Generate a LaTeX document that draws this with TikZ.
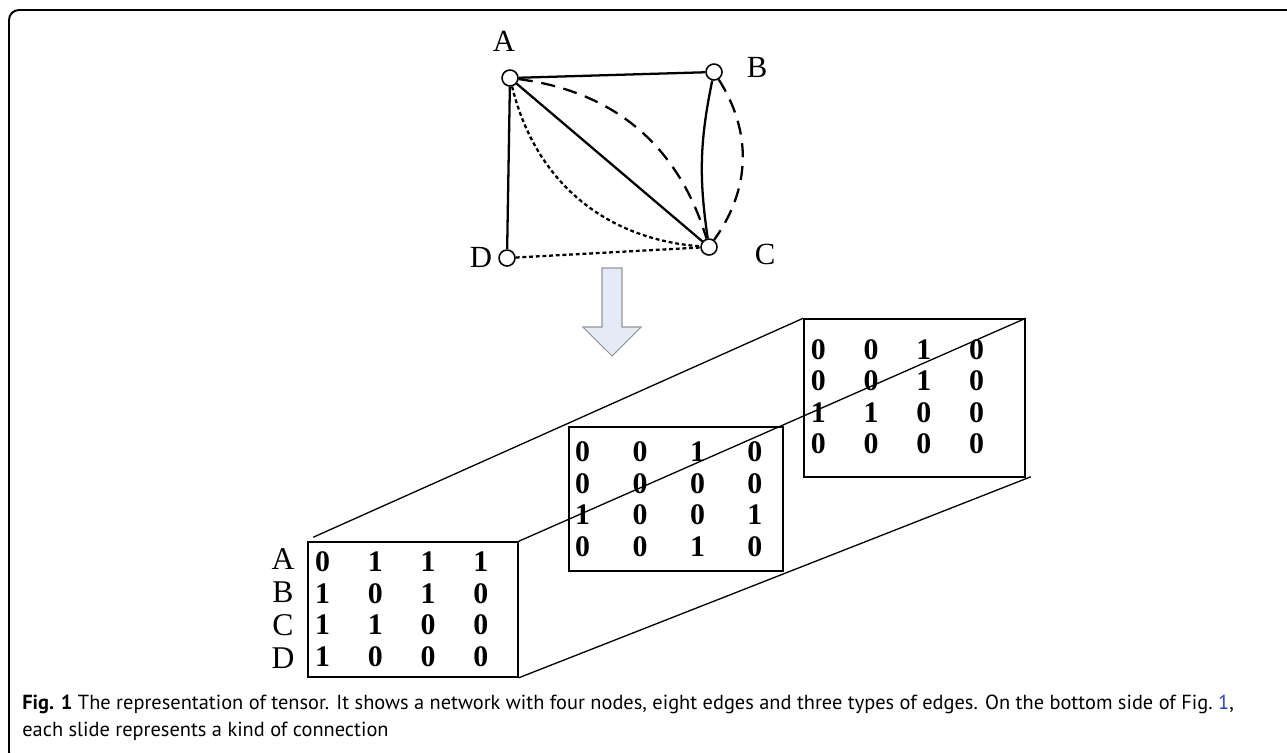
\documentclass[tikz,border=0pt]{standalone}
\usepackage{fontspec}
\setmainfont{Liberation Serif}
\newfontfamily\capfont{PT Sans}
\usepackage{tikz}
\definecolor{arrowfill}{RGB}{228,235,246}
\definecolor{arrowline}{RGB}{150,150,150}
\definecolor{linkblue}{RGB}{40,70,200}
\tikzset{
  vertex/.style={circle, draw=black, fill=white, minimum size=0.32cm,
    inner sep=0pt, line width=0.9pt},
  vlabel/.style={font=\fontsize{17.5}{20}\selectfont, inner sep=0pt},
  rowlabel/.style={font=\fontsize{18}{20}\selectfont, inner sep=0pt},
  num/.style={font=\fontsize{17}{20}\selectfont\bfseries, inner sep=0pt},
  slice/.style={rectangle, draw=black, line width=0.9pt, inner sep=0pt},
  solidedge/.style={line width=1.3pt},
  dashedge/.style={line width=1.3pt, dash pattern=on 8pt off 5pt},
  dotedge/.style={line width=1.3pt, dash pattern=on 2.2pt off 1.6pt},
  prism/.style={line width=0.75pt},
  frameline/.style={line width=1.1pt, rounded corners=0.2cm},
  bigarrow/.style={fill=arrowfill, draw=arrowline, line width=0.6pt},
  caption/.style={anchor=base west, inner sep=0pt,
    font=\capfont\fontsize{11.6}{14}\selectfont}
}

\begin{document}
\begin{tikzpicture}[x=0.02cm, y=-0.02cm]
  \useasboundingbox (0,0) rectangle (1287,752);
  \clip (0,0) rectangle (1287,752);

  % Frame
  \draw[frameline] (1300,10) -- (9,10) -- (9,762) -- (1300,762);

  % Network
  \node[vertex] (A) at (510,78) {};
  \node[vertex] (B) at (714,72) {};
  \node[vertex] (C) at (709,247) {};
  \node[vertex] (D) at (507,258) {};
  \node[vlabel] (lA) at (504,41) {A};
  \node[vlabel] (lB) at (757,67) {B};
  \node[vlabel] (lC) at (765,254) {C};
  \node[vlabel] (lD) at (481,257) {D};

  \draw[solidedge] (A) -- (B);
  \draw[solidedge] (A) -- (D);
  \draw[solidedge] (A) -- (C);
  \draw[solidedge] (B) to[bend right=10] (C);
  \draw[dashedge] (B) to[bend left=34] (C);
  \draw[dashedge] (A) to[bend left=33] (C);
  \draw[dotedge] (A) to[bend right=36] (C);
  \draw[dotedge] (D) -- (C);

  % Down arrow
  \draw[bigarrow] (602,268) -- (622,268) -- (622,327) -- (641,327)
    -- (612,356) -- (583,327) -- (602,327) -- cycle;

  % Slices
  \node[slice, minimum width=4.2cm, minimum height=2.7cm] (front) at (413,609.5) {};
  \node[slice, minimum width=4.28cm, minimum height=2.88cm] (middle) at (676,499) {};
  \node[slice, minimum width=4.42cm, minimum height=3.16cm] (back) at (914.5,398) {};

  \draw[prism] ([shift={(6,-4)}]front.north west) -- (back.north west);
  \draw[prism] (front.north east) -- (back.north east);
  \draw[prism] (front.south east) -- ([shift={(5,-1)}]back.south east);

  % Entries
  \foreach \row [count=\i] in {{0,1,1,1},{1,0,1,0},{1,1,0,0},{1,0,0,0}}
    \foreach \v [count=\j] in \row
      \node[num] (f-\i-\j) at ({322.7+52.7*(\j-1)}, {561.7+31.7*(\i-1)}) {\v};
  \foreach \row [count=\i] in {{0,0,1,0},{0,0,0,0},{1,0,0,1},{0,0,1,0}}
    \foreach \v [count=\j] in \row
      \node[num] (m-\i-\j) at ({582.7+57.4*(\j-1)}, {451.7+31.7*(\i-1)}) {\v};
  \foreach \row [count=\i] in {{0,0,1,0},{0,0,1,0},{1,1,0,0},{0,0,0,0}}
    \foreach \v [count=\j] in \row
      \node[num] (b-\i-\j) at ({818.3+52.8*(\j-1)}, {350+31.1*(\i-1)}) {\v};
  \foreach \l [count=\i] in {A,B,C,D}
    \node[rowlabel] (r-\l) at (283, {559+33*(\i-1)}) {\l};

  % Caption
  \node[caption] (cap1) at (22,709) {\textbf{Fig. 1} The representation of tensor. It shows a network with four nodes, eight edges and three types of edges. On the bottom side of Fig.~\textcolor{linkblue}{1},};
  \node[caption] (cap2) at (22,736) {each slide represents a kind of connection};
\end{tikzpicture}
\end{document}
